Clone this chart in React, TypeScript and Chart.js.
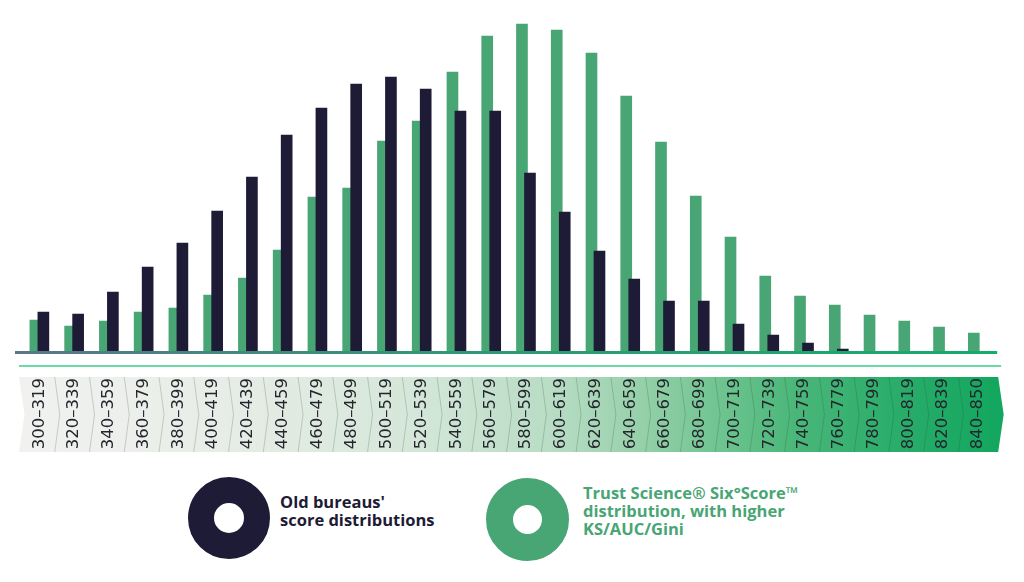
import { useEffect, useRef } from 'react';
import { Chart, registerables } from 'chart.js';

Chart.register(...registerables);

const categories = [
  '300–319', '320–339', '340–359', '360–379', '380–399', '400–419', '420–439',
  '440–459', '460–479', '480–499', '500–519', '520–539', '540–559', '560–579',
  '580–599', '600–619', '620–639', '640–659', '660–679', '680–699', '700–719',
  '720–739', '740–759', '760–779', '780–799', '800–819', '820–839', '840–850',
];

const sixScoreValues = [
  32, 26, 31, 40, 44, 57, 74, 102, 155, 164, 211, 231, 280, 316,
  328, 322, 299, 256, 210, 156, 115, 76, 56, 47, 37, 31, 25, 19,
];

const oldBureauValues = [
  40, 38, 60, 85, 109, 141, 175, 217, 244, 268, 275, 263, 241, 241,
  179, 140, 101, 73, 51, 51, 28, 17, 9, 3, 0, 0, 0, 0,
];

const oldBureauLegend = ["Old bureaus'", 'score distributions'];
const sixScoreLegend = ['Trust Science® Six°Score™', 'distribution, with higher', 'KS/AUC/Gini'];

const GREEN = '#48a574';
const DARK = '#1e1b36';
const BAR_SHIFT = 0.115;
const Y_MAX = 352;

const bandStops: [number, string][] = [
  [0, '#f1f2f0'],
  [0.2, '#e8ede7'],
  [0.4, '#d5e7d9'],
  [0.545, '#b7dcc4'],
  [0.627, '#98d1ab'],
  [0.707, '#71c591'],
  [0.788, '#4ab779'],
  [0.889, '#2aad6a'],
  [1, '#12a65e'],
];

const decorPlugin = {
  id: 'decor',
  beforeDraw(chart: any) {
    const { ctx } = chart;
    const xs = chart.scales.x;
    const top = xs.top + 25;
    const bottom = xs.top + 100;
    const mid = (top + bottom) / 2;
    const left = xs.left - 3;
    const right = xs.right + 3;
    const grad = ctx.createLinearGradient(left, 0, right + 5, 0);
    bandStops.forEach(([o, c]) => grad.addColorStop(o, c));
    ctx.save();
    ctx.beginPath();
    ctx.moveTo(left, top);
    ctx.lineTo(right, top);
    ctx.lineTo(right + 5.5, mid);
    ctx.lineTo(right, bottom);
    ctx.lineTo(left, bottom);
    ctx.lineTo(left + 5.5, mid);
    ctx.closePath();
    ctx.fillStyle = grad;
    ctx.fill();
    ctx.strokeStyle = 'rgba(40,70,50,0.22)';
    ctx.lineWidth = 1;
    for (let i = 1; i < categories.length; i++) {
      const b = xs.getPixelForValue(i - 0.5);
      ctx.beginPath();
      ctx.moveTo(b - 2, top);
      ctx.lineTo(b + 3, mid);
      ctx.lineTo(b - 2, bottom);
      ctx.stroke();
    }
    ctx.restore();
  },
  afterDatasetsDraw(chart: any) {
    const { ctx, chartArea } = chart;
    const xs = chart.scales.x;
    ctx.save();
    const g = ctx.createLinearGradient(xs.left - 7, 0, xs.right + 2, 0);
    g.addColorStop(0, '#5a7688');
    g.addColorStop(0.45, '#2f9877');
    g.addColorStop(1, '#17ab6a');
    ctx.strokeStyle = g;
    ctx.lineWidth = 3;
    ctx.beginPath();
    ctx.moveTo(xs.left - 7, chartArea.bottom + 0.5);
    ctx.lineTo(xs.right + 2, chartArea.bottom + 0.5);
    ctx.stroke();
    ctx.strokeStyle = '#3ccb8b';
    ctx.lineWidth = 1.5;
    ctx.beginPath();
    ctx.moveTo(xs.left - 3, chartArea.bottom + 14);
    ctx.lineTo(xs.right + 6, chartArea.bottom + 14);
    ctx.stroke();
    ctx.restore();
  },
};

function Ring({ cx, cy, r, hole, color }: { cx: number; cy: number; r: number; hole: number; color: string }) {
  return (
    <div
      style={{
        position: 'absolute',
        left: cx - r,
        top: cy - r,
        width: r * 2,
        height: r * 2,
        boxSizing: 'border-box',
        borderRadius: '50%',
        border: `${r - hole}px solid ${color}`,
      }}
    />
  );
}

export default function App() {
  const ref = useRef<HTMLCanvasElement>(null);

  useEffect(() => {
    const canvas = ref.current;
    if (!canvas) return;
    const chart = new Chart(canvas, {
      type: 'bar',
      data: {
        datasets: [
          {
            label: sixScoreLegend.join(' '),
            data: sixScoreValues.map((v, i) => ({ x: i - BAR_SHIFT, y: v })),
            backgroundColor: GREEN,
            barThickness: 11,
            grouped: false,
            order: 1,
          },
          {
            label: oldBureauLegend.join(' '),
            data: oldBureauValues.map((v, i) => ({ x: i + BAR_SHIFT, y: v })),
            backgroundColor: DARK,
            barThickness: 11,
            grouped: false,
            order: 0,
          },
        ] as any,
      },
      options: {
        animation: false,
        responsive: false,
        devicePixelRatio: 1,
        layout: { padding: { left: 22, right: 22, top: 0, bottom: 0 } },
        plugins: { legend: { display: false }, tooltip: { enabled: false } },
        scales: {
          x: {
            type: 'linear',
            min: -0.5,
            max: 27.5,
            offset: false,
            position: 'bottom',
            grid: { display: false, drawTicks: false, offset: false },
            border: { display: false },
            afterBuildTicks: (s: any) => {
              s.ticks = categories.map((_, i) => ({ value: i }));
            },
            afterFit: (s: any) => {
              s.height = 110;
            },
            ticks: {
              autoSkip: false,
              maxRotation: 90,
              minRotation: 90,
              padding: 26,
              color: '#24252d',
              font: { family: 'DejaVu Sans', size: 16.5 },
              callback: (v: any) => categories[Number(v)] ?? '',
            },
          },
          y: { display: false, min: 0, max: Y_MAX },
        },
      } as any,
      plugins: [decorPlugin],
    });
    return () => chart.destroy();
  }, []);

  const textBase: React.CSSProperties = {
    position: 'absolute',
    fontFamily: '"Open Sans", sans-serif',
    fontWeight: 700,
    fontSize: 16.5,
    lineHeight: '18px',
    whiteSpace: 'nowrap',
  };

  return (
    <div style={{ position: 'absolute', left: 0, top: 0, width: 1024, height: 582, background: '#fff', overflow: 'hidden' }}>
      <canvas ref={ref} width={1024} height={462} style={{ position: 'absolute', left: 0, top: 0 }} />
      <Ring cx={229} cy={517.5} r={41} hole={14.5} color={DARK} />
      <div style={{ ...textBase, left: 280, top: 493, color: DARK }}>
        {oldBureauLegend.map((l) => (
          <div key={l}>{l}</div>
        ))}
      </div>
      <Ring cx={527} cy={519} r={41.5} hole={14.5} color={GREEN} />
      <div style={{ ...textBase, left: 583, top: 484, color: GREEN }}>
        {sixScoreLegend.map((l) => (
          <div key={l}>{l}</div>
        ))}
      </div>
    </div>
  );
}
